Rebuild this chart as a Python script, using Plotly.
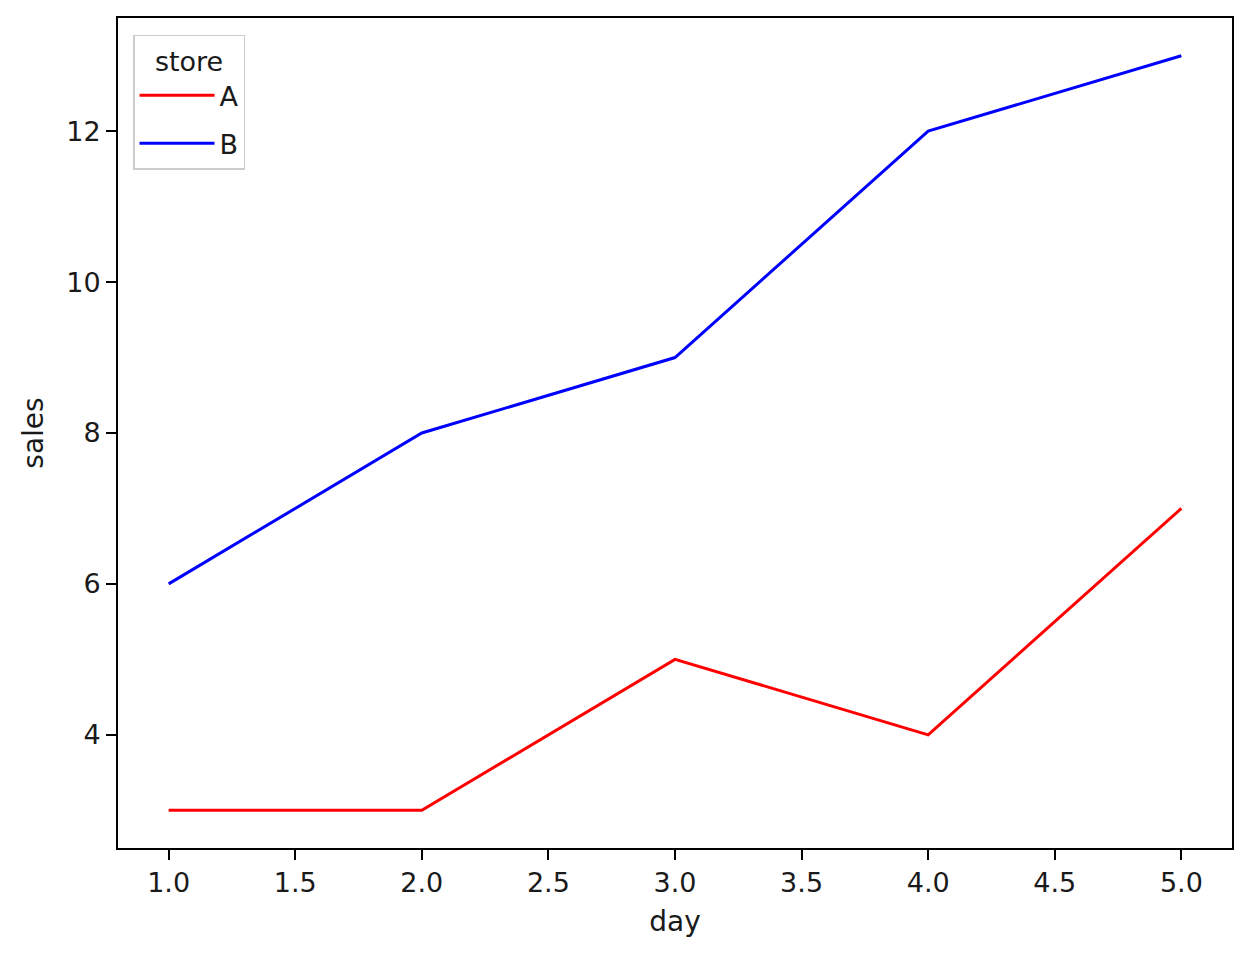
import plotly.graph_objects as go

days = [1, 2, 3, 4, 5]
sales_a = [3, 3, 5, 4, 7]
sales_b = [6, 8, 9, 12, 13]
x_ticks = [1.0, 1.5, 2.0, 2.5, 3.0, 3.5, 4.0, 4.5, 5.0]
y_ticks = [4, 6, 8, 10, 12]

FONT = "DejaVu Sans"
FS = 27

fig = go.Figure()
fig.add_trace(go.Scatter(x=days, y=sales_a, mode="lines", name="A", legendgroup="a",
                         line=dict(color="red", width=3)))
fig.add_trace(go.Scatter(x=days, y=sales_b, mode="lines", name="B", legendgroup="b",
                         line=dict(color="blue", width=3)))

axis_common = dict(showline=True, linecolor="black", linewidth=2, mirror=True,
                   ticks="outside", ticklen=10, tickwidth=2, tickcolor="black",
                   showgrid=False, zeroline=False,
                   tickfont=dict(family=FONT, size=FS, color="#1a1a1a"))

fig.update_layout(
    width=1243, height=959,
    paper_bgcolor="white", plot_bgcolor="white",
    margin=dict(l=110, r=19, t=8, b=119),
    font=dict(family=FONT, size=FS, color="#1a1a1a"),
    xaxis=dict(range=[0.8, 5.2], tickvals=x_ticks,
               ticktext=[f"{v:.1f}" for v in x_ticks],
               title=dict(text="day", standoff=14, font=dict(family=FONT, size=FS + 1)),
               **axis_common),
    yaxis=dict(range=[2.5, 13.5], tickvals=y_ticks,
               title=dict(text="sales", standoff=14, font=dict(family=FONT, size=FS + 1)),
               **axis_common),
    legend=dict(x=0.0135, y=0.98, xanchor="left", yanchor="top",
                bgcolor="rgba(255,255,255,0.8)", bordercolor="#cccccc", borderwidth=1.5,
                tracegroupgap=10, itemwidth=75,
                title=dict(text="store", side="top center",
                           font=dict(family=FONT, size=FS)),
                font=dict(family=FONT, size=FS, color="#1a1a1a")),
    showlegend=True,
)

fig.write_html("out.html")
